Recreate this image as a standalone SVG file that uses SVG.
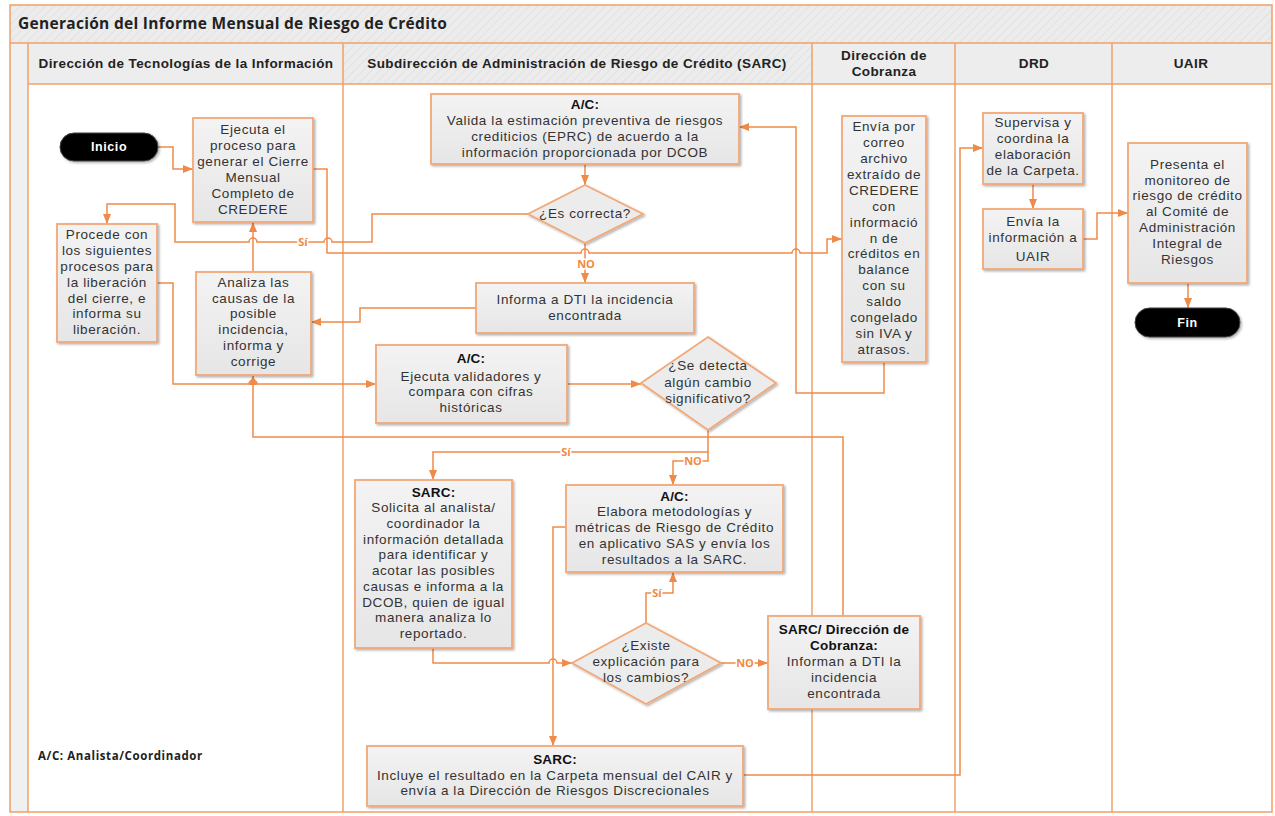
<svg xmlns="http://www.w3.org/2000/svg" width="1275" height="816" viewBox="0 0 1275 816">
<defs>
<pattern id="hatch" patternUnits="userSpaceOnUse" width="6" height="6" patternTransform="rotate(45)">
<rect width="6" height="6" fill="#ECECEC"/>
<line x1="0" y1="0" x2="0" y2="6" stroke="#DCDCDC" stroke-width="1.2"/>
</pattern>
<linearGradient id="boxg" x1="0" y1="0" x2="0" y2="1">
<stop offset="0" stop-color="#F3F3F3"/>
<stop offset="1" stop-color="#E6E6E6"/>
</linearGradient>
<filter id="sh" x="-10%" y="-10%" width="130%" height="130%">
<feDropShadow dx="1.5" dy="1.5" stdDeviation="1" flood-color="#000" flood-opacity="0.3"/>
</filter>
<marker id="ar" markerUnits="userSpaceOnUse" markerWidth="10" markerHeight="10" viewBox="0 0 10 10" refX="10" refY="5" orient="auto">
<path d="M0,1 L10,5 L0,9 Z" fill="#EF8A48"/>
</marker>
</defs>
<style>
.lane{stroke:#F0A06A;stroke-width:1.5;fill:none}
.box{fill:url(#boxg);stroke:#F2A878;stroke-width:1.8;filter:url(#sh)}
.dia{fill:#ECECEC;stroke:#F2A878;stroke-width:1.8;filter:url(#sh)}
.pill{fill:#000;stroke:#444;stroke-width:1;filter:url(#sh)}
.t{font-family:"Liberation Sans",Arial,sans-serif;font-size:13.5px;letter-spacing:0.6px;fill:#333;text-anchor:middle}
.b{font-weight:700;fill:#111;letter-spacing:0.2px}
.w{fill:#fff;font-weight:700;font-size:12.5px}
.hd{font-family:"Liberation Sans",Arial,sans-serif;font-size:13.5px;letter-spacing:0.4px;font-weight:700;fill:#222;text-anchor:middle}
.c{fill:none;stroke:#EF8A48;stroke-width:1.5}
.lb{font-family:"Open Sans","Liberation Sans",sans-serif;font-size:11px;font-weight:700;fill:#F08A3E;text-anchor:middle;stroke:#fff;stroke-width:3;paint-order:stroke}
</style>
<rect width="1275" height="816" fill="#fff"/>
<g id="frame">
<rect x="10" y="5" width="1262" height="38" fill="url(#hatch)"/>
<rect x="10" y="43" width="18" height="769" fill="#F0F0F0"/>
<rect x="28" y="43" width="315" height="41" fill="#EDEDED"/>
<rect x="343" y="43" width="469" height="41" fill="url(#hatch)"/>
<rect x="812" y="43" width="460" height="41" fill="#EDEDED"/>
<rect x="10" y="5" width="1262" height="807" class="lane" stroke-width="2"/>
<line x1="10" y1="43" x2="1272" y2="43" class="lane"/>
<line x1="28" y1="84" x2="1272" y2="84" class="lane"/>
<line x1="28" y1="43" x2="28" y2="812" class="lane"/>
<line x1="343" y1="43" x2="343" y2="812" class="lane"/>
<line x1="812" y1="43" x2="812" y2="812" class="lane"/>
<line x1="955" y1="43" x2="955" y2="812" class="lane"/>
<line x1="1112" y1="43" x2="1112" y2="812" class="lane"/>
<text x="18" y="29" font-family="Open Sans, Liberation Sans, sans-serif" font-size="15.5" letter-spacing="0.3" font-weight="700" fill="#222">Generación del Informe Mensual de Riesgo de Crédito</text>
<text x="186" y="68" class="hd">Dirección de Tecnologías de la Información</text>
<text x="577" y="68" class="hd">Subdirección de Administración de Riesgo de Crédito (SARC)</text>
<text x="884" y="60" class="hd">Dirección de</text>
<text x="884" y="76" class="hd">Cobranza</text>
<text x="1034" y="68" class="hd">DRD</text>
<text x="1191" y="68" class="hd">UAIR</text>
<text x="38" y="760" font-family="Open Sans, Liberation Sans, sans-serif" font-size="11.5" letter-spacing="0.6" font-weight="700" fill="#222">A/C: Analista/Coordinador</text>
</g>
<g id="connectors">
<path class="c" marker-end="url(#ar)" d="M158,147 H173 V169 H193"/>
<path class="c" marker-end="url(#ar)" d="M313,169 H327 V253 H581 a4,4 0 0 1 8,0 H792 a4,4 0 0 1 8,0 H827 V239 H842"/>
<path class="c" marker-end="url(#ar)" d="M585,164 V185"/>
<path class="c" marker-end="url(#ar)" d="M530,214 H372 V242 H332 a4,4 0 0 0 -8,0 H257 a4,4 0 0 0 -8,0 H175 V204 H107 V224"/>
<path class="c" marker-end="url(#ar)" d="M585,243 V283"/>
<path class="c" marker-end="url(#ar)" d="M476,308 H360 V322 H311"/>
<path class="c" marker-end="url(#ar)" d="M253,272 V222"/>
<path class="c" marker-end="url(#ar)" d="M157,283 H173 V384 H249 a4,4 0 0 1 8,0 H376"/>
<path class="c" marker-end="url(#ar)" d="M567,384 H641"/>
<path class="c" marker-end="url(#ar)" d="M884,362 V393 H796 V127 H739"/>
<path class="c" marker-end="url(#ar)" d="M843,616 V437 H253 V375"/>
<path class="c" marker-end="url(#ar)" d="M708,430 V452 H433 V480"/>
<path class="c" marker-end="url(#ar)" d="M708,452 V461 H673 V485"/>
<path class="c" marker-end="url(#ar)" d="M433,648 V663 H549 a4,4 0 0 1 8,0 H572"/>
<path class="c" marker-end="url(#ar)" d="M646,623 V593 H673 V572"/>
<path class="c" marker-end="url(#ar)" d="M721,663 H768"/>
<path class="c" marker-end="url(#ar)" d="M566,527 H553 V746"/>
<path class="c" marker-end="url(#ar)" d="M743,775 H960 V148 H983"/>
<path class="c" marker-end="url(#ar)" d="M1033,184 V209"/>
<path class="c" marker-end="url(#ar)" d="M1083,239 H1097 V213 H1128"/>
<path class="c" marker-end="url(#ar)" d="M1188,283 V308"/>
<text x="303" y="246" class="lb">Sí</text>
<text x="586" y="268" class="lb">NO</text>
<text x="566" y="456" class="lb">Sí</text>
<text x="693" y="465" class="lb">NO</text>
<text x="657" y="597" class="lb">Sí</text>
<text x="745" y="667" class="lb">NO</text>
</g>
<g id="inicio">
<rect x="60" y="133" width="98" height="28" rx="14" class="pill"/>
<text x="109" y="151" class="t w">Inicio</text>
</g>
<g id="ejecuta-cierre">
<rect x="193" y="118" width="120" height="104" class="box"/>
<text class="t"><tspan x="253" y="134">Ejecuta el</tspan><tspan x="253" y="150">proceso para</tspan><tspan x="253" y="166">generar el Cierre</tspan><tspan x="253" y="182">Mensual</tspan><tspan x="253" y="198">Completo de</tspan><tspan x="253" y="214">CREDERE</tspan></text>
</g>
<g id="procede">
<rect x="57" y="224" width="100" height="118" class="box"/>
<text class="t"><tspan x="107" y="239">Procede con</tspan><tspan x="107" y="255">los siguientes</tspan><tspan x="107" y="271">procesos para</tspan><tspan x="107" y="287">la liberación</tspan><tspan x="107" y="303">del cierre, e</tspan><tspan x="107" y="318">informa su</tspan><tspan x="107" y="334">liberación.</tspan></text>
</g>
<g id="analiza">
<rect x="196" y="272" width="115" height="103" class="box"/>
<text class="t"><tspan x="253.5" y="287">Analiza las</tspan><tspan x="253.5" y="303">causas de la</tspan><tspan x="253.5" y="318">posible</tspan><tspan x="253.5" y="334">incidencia,</tspan><tspan x="253.5" y="350">informa y</tspan><tspan x="253.5" y="366">corrige</tspan></text>
</g>
<g id="valida">
<rect x="431" y="94" width="308" height="70" class="box"/>
<text class="t"><tspan x="585" y="109" class="b">A/C:</tspan><tspan x="585" y="125">Valida la estimación preventiva de riesgos</tspan><tspan x="585" y="141">crediticios (EPRC) de acuerdo a la</tspan><tspan x="585" y="157">información proporcionada por DCOB</tspan></text>
</g>
<g id="es-correcta">
<polygon points="585,185 643,214 585,243 528,214" class="dia"/>
<text x="585" y="218" class="t">¿Es correcta?</text>
</g>
<g id="informa-dti">
<rect x="476" y="283" width="218" height="50" class="box"/>
<text class="t"><tspan x="585" y="304">Informa a DTI la incidencia</tspan><tspan x="585" y="320">encontrada</tspan></text>
</g>
<g id="ejecuta-validadores">
<rect x="376" y="345" width="191" height="78" class="box"/>
<text class="t"><tspan x="471" y="363" class="b">A/C:</tspan><tspan x="471" y="381">Ejecuta validadores  y</tspan><tspan x="471" y="396">compara con cifras</tspan><tspan x="471" y="412">históricas</tspan></text>
</g>
<g id="se-detecta">
<polygon points="708,337 776,383 708,430 641,383" class="dia"/>
<text class="t"><tspan x="708" y="370">¿Se detecta</tspan><tspan x="708" y="387">algún cambio</tspan><tspan x="708" y="403">significativo?</tspan></text>
</g>
<g id="envia-correo">
<rect x="842" y="116" width="84" height="246" class="box"/>
<text class="t"><tspan x="884" y="131">Envía por</tspan><tspan x="884" y="147">correo</tspan><tspan x="884" y="163">archivo</tspan><tspan x="884" y="179">extraído de</tspan><tspan x="884" y="195">CREDERE</tspan><tspan x="884" y="211">con</tspan><tspan x="884" y="227">informació</tspan><tspan x="884" y="243">n de</tspan><tspan x="884" y="258">créditos en</tspan><tspan x="884" y="274">balance</tspan><tspan x="884" y="290">con su</tspan><tspan x="884" y="306">saldo</tspan><tspan x="884" y="322">congelado</tspan><tspan x="884" y="338">sin IVA y</tspan><tspan x="884" y="354">atrasos.</tspan></text>
</g>
<g id="supervisa">
<rect x="983" y="113" width="100" height="71" class="box"/>
<text class="t"><tspan x="1033" y="127">Supervisa y</tspan><tspan x="1033" y="143">coordina la</tspan><tspan x="1033" y="159">elaboración</tspan><tspan x="1033" y="175">de la Carpeta.</tspan></text>
</g>
<g id="envia-uair">
<rect x="983" y="209" width="100" height="60" class="box"/>
<text class="t"><tspan x="1033" y="226">Envía la</tspan><tspan x="1033" y="242">información a</tspan><tspan x="1033" y="261">UAIR</tspan></text>
</g>
<g id="presenta">
<rect x="1128" y="143" width="119" height="140" class="box"/>
<text class="t"><tspan x="1187.5" y="169">Presenta el</tspan><tspan x="1187.5" y="185">monitoreo de</tspan><tspan x="1187.5" y="200">riesgo de crédito</tspan><tspan x="1187.5" y="216">al Comité de</tspan><tspan x="1187.5" y="232">Administración</tspan><tspan x="1187.5" y="248">Integral de</tspan><tspan x="1187.5" y="264">Riesgos</tspan></text>
</g>
<g id="fin">
<rect x="1135" y="308" width="105" height="29" rx="14.5" class="pill"/>
<text x="1187.5" y="327" class="t w">Fin</text>
</g>
<g id="solicita">
<rect x="355" y="480" width="157" height="168" class="box"/>
<text class="t"><tspan x="433.5" y="497" class="b">SARC:</tspan><tspan x="433.5" y="512">Solicita al analista/</tspan><tspan x="433.5" y="528">coordinador la</tspan><tspan x="433.5" y="544">información detallada</tspan><tspan x="433.5" y="559">para identificar y</tspan><tspan x="433.5" y="575">acotar las posibles</tspan><tspan x="433.5" y="591">causas e informa a la</tspan><tspan x="433.5" y="607">DCOB, quien de igual</tspan><tspan x="433.5" y="622">manera analiza lo</tspan><tspan x="433.5" y="638">reportado.</tspan></text>
</g>
<g id="elabora">
<rect x="566" y="485" width="217" height="87" class="box"/>
<text class="t"><tspan x="674.5" y="501" class="b">A/C:</tspan><tspan x="674.5" y="516">Elabora metodologías y</tspan><tspan x="674.5" y="532">métricas de Riesgo de Crédito</tspan><tspan x="674.5" y="548">en aplicativo SAS y envía los</tspan><tspan x="674.5" y="564">resultados a la SARC.</tspan></text>
</g>
<g id="existe">
<polygon points="646,623 721,663 646,704 572,663" class="dia"/>
<text class="t"><tspan x="646" y="650">¿Existe</tspan><tspan x="646" y="666">explicación para</tspan><tspan x="646" y="682">los cambios?</tspan></text>
</g>
<g id="sarc-cobranza">
<rect x="768" y="616" width="152" height="93" class="box"/>
<text class="t"><tspan x="844" y="634" class="b">SARC/ Dirección de</tspan><tspan x="844" y="650" class="b">Cobranza:</tspan><tspan x="844" y="666">Informan a DTI la</tspan><tspan x="844" y="682">incidencia</tspan><tspan x="844" y="698">encontrada</tspan></text>
</g>
<g id="incluye">
<rect x="367" y="746" width="376" height="60" class="box"/>
<text class="t"><tspan x="555" y="764" class="b">SARC:</tspan><tspan x="555" y="780">Incluye el resultado en la Carpeta mensual del CAIR y</tspan><tspan x="555" y="795">envía a la Dirección de Riesgos Discrecionales</tspan></text>
</g>
</svg>
